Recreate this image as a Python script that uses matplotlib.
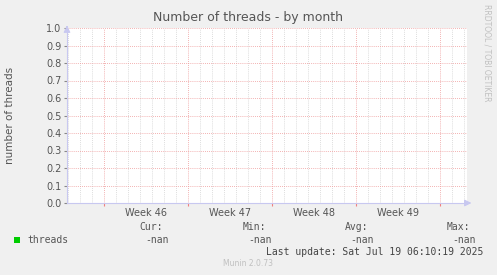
import matplotlib
matplotlib.use("Agg")
import matplotlib.pyplot as plt
import numpy as np

# chart data (x in days, 0 = start of week 46)
week_labels = ["Week 46", "Week 47", "Week 48", "Week 49"]
week_starts = [0, 7, 14, 21, 28]
x_range = (-3.08, 30.25)
y_ticks = [0.0, 0.1, 0.2, 0.3, 0.4, 0.5, 0.6, 0.7, 0.8, 0.9, 1.0]
legend_name = "threads"
stat_names = ["Cur:", "Min:", "Avg:", "Max:"]
stat_values = ["-nan", "-nan", "-nan", "-nan"]
last_update = "Last update: Sat Jul 19 06:10:19 2025"

W, H = 497, 275
BG = "#F0F0F0"
TXT = "#555555"

fig = plt.figure(figsize=(W / 100, H / 100), dpi=100, facecolor=BG)


def px(x, y):
    return x / W, 1 - y / H


ax = fig.add_axes([67 / W, (H - 203) / H, 400 / W, 175 / H])
ax.set_facecolor("white")
ax.set_xlim(*x_range)
ax.set_ylim(0, 1)

# grid: gray dotted each day, red dotted on week starts and y ticks
dots = (0, (1, 1.5))
for d in np.arange(np.ceil(x_range[0]), x_range[1] + 0.01, 1):
    if d not in week_starts:
        ax.axvline(d, color="#D0D0D0", lw=0.6, ls=dots, zorder=1)
for d in week_starts:
    ax.axvline(d, color="#EE9999", lw=0.6, ls=dots, zorder=2)
for v in y_ticks[1:]:
    ax.axhline(v, color="#EE9999", lw=0.6, ls=dots, zorder=2)
ax.axvline(x_range[1], color="#EE9999", lw=0.6, ls=dots, zorder=2)

for s in ["top", "right"]:
    ax.spines[s].set_visible(False)
for s in ["left", "bottom"]:
    ax.spines[s].set_color("#C8C8F0")
    ax.spines[s].set_linewidth(0.8)

ax.set_yticks(y_ticks)
ax.set_yticklabels(["%.1f" % v for v in y_ticks])
ax.set_xticks(week_starts)
ax.set_xticklabels([])
ax.set_xticks([w + 3.5 for w in week_starts[:-1]], minor=True)
ax.set_xticklabels(week_labels, minor=True)
ax.tick_params(axis="x", which="minor", length=0, labelsize=7, labelcolor=TXT, pad=3.5)
ax.tick_params(axis="x", which="major", length=2, color="#F08080", direction="out")
ax.tick_params(axis="y", length=2, color="#888888", labelsize=7, labelcolor=TXT, pad=2)

# axis arrows
ax.annotate("", xy=(0, 1.03), xytext=(0, 0.99), xycoords="axes fraction",
            arrowprops=dict(arrowstyle="-|>", color="#C8C8F0", lw=0.8), annotation_clip=False)
ax.annotate("", xy=(1.018, 0), xytext=(0.99, 0), xycoords="axes fraction",
            arrowprops=dict(arrowstyle="-|>", color="#C8C8F0", lw=0.8), annotation_clip=False)

# titles
fig.text(*px(248, 18), "Number of threads - by month", ha="center", va="center",
         fontsize=9, color=TXT)
fig.text(*px(10, 115), "number of threads", ha="center", va="center",
         rotation=90, fontsize=7.5, color=TXT)
fig.text(*px(487, 53), "RRDTOOL / TOBI OETIKER", ha="center", va="center",
         rotation=270, fontsize=5.5, color="#C0C0C0")

# legend
mono = "DejaVu Sans Mono"
fig.patches.append(plt.Rectangle(px(14, 243), 6 / W, 6 / H, transform=fig.transFigure,
                                 facecolor="#00CC00", edgecolor="none"))
fig.text(*px(27, 240), legend_name, ha="left", va="center", family=mono, fontsize=7, color=TXT)
stat_right = [163, 266, 368, 470]
val_right = [169, 272, 374, 476]
for name, val, xr, xv in zip(stat_names, stat_values, stat_right, val_right):
    fig.text(*px(xr, 227), name, ha="right", va="center", family=mono, fontsize=7, color=TXT)
    fig.text(*px(xv, 240), val, ha="right", va="center", family=mono, fontsize=7, color=TXT)
fig.text(*px(483, 252), last_update, ha="right", va="center", family=mono, fontsize=7, color="#444444")
fig.text(*px(248, 264), "Munin 2.0.73", ha="center", va="center", fontsize=5.5, color="#C0C0C0")

fig.savefig("out.png", dpi=100, facecolor=BG)
